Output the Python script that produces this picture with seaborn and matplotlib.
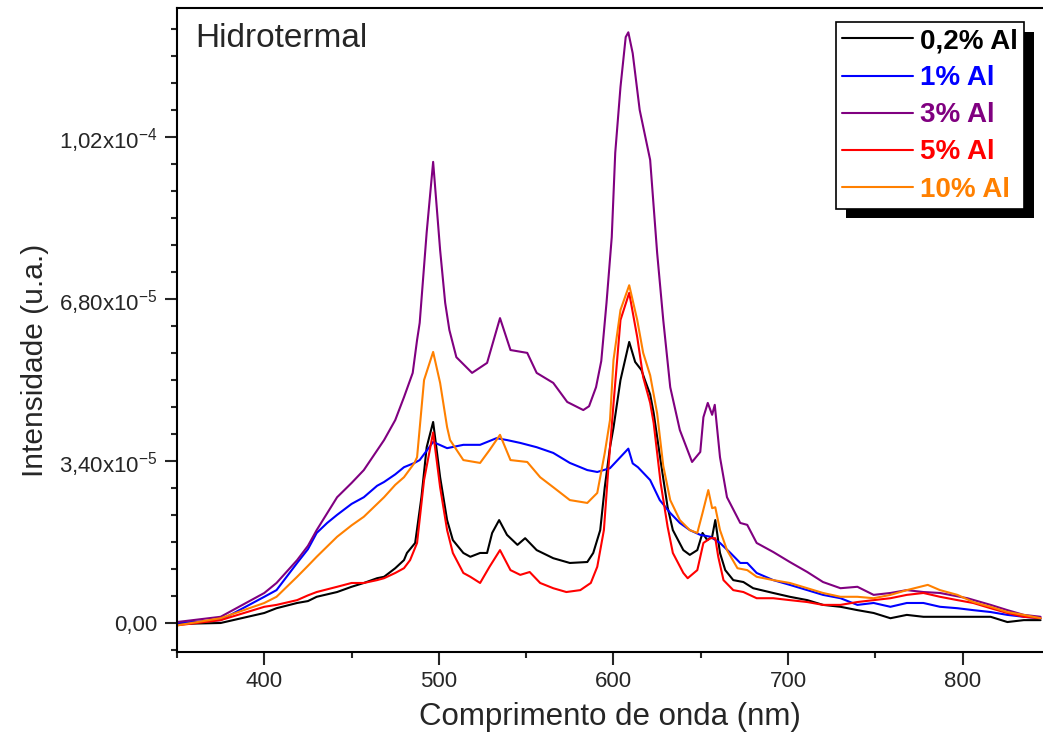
import numpy as np
import pandas as pd
import matplotlib
matplotlib.use("Agg")
import matplotlib.pyplot as plt
import seaborn as sns
from matplotlib.ticker import FixedLocator, FixedFormatter, MultipleLocator
from matplotlib.lines import Line2D
import matplotlib.patheffects as pe

# ---------------- data (intensity in units of 1e-5) ----------------
labels = ["0,2% Al", "1% Al", "3% Al", "5% Al", "10% Al"]
colors = ["#000000", "#0000FF", "#800080", "#FF0000", "#FF8000"]

wl_02 = [350, 375, 400, 407, 418.8, 425, 430, 441.7, 450, 457, 464.6, 468.6, 475, 480, 481.7, 486.4, 490, 493,
         496.7, 500.7, 504.7, 508, 514, 518,
         523.6, 527.6, 530.5, 534.5, 539, 545, 549.4, 556, 565.5, 575, 585, 588.4, 592.4, 595, 598, 600,
         604, 609, 612.4, 616, 618, 621, 623, 627, 631, 634, 640, 643.7, 648, 651, 653.7, 656.5, 658.3,
         661, 664, 668.6, 674.4, 680, 691.5, 701, 711, 720, 730, 739.7, 749, 758.6, 768, 777.5, 787, 797,
         806, 816, 825.6, 835, 844.6]
int_02 = [-0.02, 0.0, 0.21, 0.31, 0.42, 0.46, 0.55, 0.65, 0.76, 0.84, 0.94, 0.97, 1.15, 1.32, 1.47, 1.68, 2.64, 3.69,
          4.22, 3.06, 2.16, 1.74, 1.47, 1.39,
          1.47, 1.47, 1.89, 2.16, 1.85, 1.64, 1.78, 1.53, 1.36, 1.26, 1.28, 1.47, 1.95, 2.85, 3.69, 4.10,
          5.10, 5.90, 5.48, 5.31, 5.10, 4.80, 4.41, 3.40, 2.43, 1.95, 1.53, 1.43, 1.53, 1.89, 1.74, 1.81, 2.16,
          1.47, 1.11, 0.90, 0.86, 0.73, 0.63, 0.55, 0.48, 0.38, 0.34, 0.27, 0.21, 0.10, 0.17, 0.13, 0.13, 0.13,
          0.13, 0.13, 0.02, 0.06, 0.06]

wl_1 = [350, 375, 400, 407, 418.8, 425, 430, 436, 441.7, 450, 457, 464.6, 468.6, 475, 480, 486, 489, 496.7,
        504.7, 514, 523.6, 533, 539, 546.6, 556,
        565.5, 575, 585, 590.7, 598, 608.5, 611, 614, 621, 626.5, 632.5, 638, 643.7, 649.7, 655.5, 661, 667,
        672.6, 676.6, 682, 691.5, 701, 711, 720, 730, 739.7, 749, 758.6, 768, 777.5, 787, 797, 806, 816,
        825.6, 835, 844.6]
int_1 = [0.0, 0.06, 0.55, 0.69, 1.26, 1.55, 1.89, 2.10, 2.27, 2.50, 2.64, 2.88, 2.96, 3.12, 3.27, 3.36, 3.42, 3.80,
         3.67, 3.74, 3.74, 3.88, 3.84, 3.78, 3.69,
         3.57, 3.36, 3.21, 3.17, 3.25, 3.66, 3.35, 3.27, 3.00, 2.58, 2.31, 2.10, 1.95, 1.85, 1.81, 1.68, 1.47,
         1.26, 1.26, 1.05, 0.90, 0.80, 0.69, 0.59, 0.52, 0.38, 0.42, 0.34, 0.42, 0.42, 0.34, 0.31, 0.27, 0.23,
         0.17, 0.13, 0.10]

wl_3 = [350, 375, 400, 407, 418.8, 425, 430, 441.7, 450, 457, 468.6, 475, 480, 485, 487.5, 489, 493, 496.7,
        500.7, 503.6, 506, 510, 519, 527.6, 535, 541,
        550.6, 556, 565.5, 573.5, 582.7, 586, 590, 593, 596, 599, 601, 604, 607, 608.5, 611, 615, 621, 625,
        628.5, 632.5, 638, 645, 649.7, 651.5, 654, 656.5, 658, 661, 665, 672.6, 676.6, 682, 691.5, 701, 711,
        720, 730, 739.7, 749, 758.6, 768, 777.5, 787, 802.7, 816, 825.6, 835, 844.6]
int_3 = [0.02, 0.13, 0.63, 0.84, 1.32, 1.62, 1.95, 2.64, 2.94, 3.21, 3.84, 4.26, 4.74, 5.25, 5.94, 6.30, 8.20, 9.68,
         7.83, 6.72, 6.15, 5.58, 5.25, 5.46, 6.40, 5.73,
         5.67, 5.25, 5.04, 4.64, 4.47, 4.55, 4.95, 5.50, 6.72, 8.10, 9.87, 11.25, 12.30, 12.40, 11.96, 10.77, 9.72, 7.77,
         6.36, 4.95, 4.05, 3.38, 3.59, 4.32, 4.62, 4.37, 4.58, 3.48, 2.64, 2.10, 2.06, 1.68, 1.49, 1.28, 1.07,
         0.86, 0.73, 0.76, 0.59, 0.63, 0.69, 0.65, 0.63, 0.52, 0.38, 0.27, 0.17, 0.13]

wl_5 = [350, 375, 400, 407, 418.8, 425, 430, 441.7, 450, 457, 464.6, 468.6, 475, 480, 483.5, 487.5, 491.5,
        496.7, 500.7, 504.7, 508, 514, 518, 523.6,
        529, 535, 541, 546.6, 552, 558, 565.5, 573, 581, 587, 590.7, 594.5, 597, 600, 604, 609, 613.6, 617,
        621, 623, 627, 631, 634, 640, 642.5, 648, 651.5, 655.5, 658.3, 660, 663, 668.6, 674.4, 682, 691.5,
        701, 711, 720, 730, 739.7, 749, 758.6, 768, 777.5, 787, 797, 806, 816, 825.6, 835, 844.6]
int_5 = [-0.05, 0.06, 0.34, 0.38, 0.48, 0.58, 0.65, 0.76, 0.84, 0.84, 0.90, 0.94, 1.05, 1.15, 1.32, 1.68, 3.00,
         4.00, 2.85, 1.95, 1.47, 1.05, 0.97, 0.84,
         1.18, 1.53, 1.11, 1.01, 1.07, 0.84, 0.73, 0.65, 0.69, 0.84, 1.18, 1.95, 3.21, 4.60, 6.36, 6.93, 6.00, 5.16,
         4.62, 4.20, 2.94, 2.02, 1.47, 1.05, 0.94, 1.11, 1.68, 1.78, 1.78, 1.39, 0.90, 0.69, 0.65, 0.52, 0.52,
         0.48, 0.44, 0.38, 0.38, 0.44, 0.48, 0.52, 0.59, 0.63, 0.55, 0.48, 0.42, 0.31, 0.21, 0.13, 0.10]

wl_10 = [350, 375, 400, 407, 418.8, 425, 430, 441.7, 450, 457, 468.6, 475, 480, 486, 487.5, 491.5, 496.7,
         500.7, 504.7, 506.4, 514, 523.6, 529, 535,
         541, 550.6, 558, 565.5, 575, 585, 590.7, 595, 598, 600, 604, 609, 613.6, 617, 621, 625, 628.5, 632.5,
         638, 643.7, 648, 651, 654.3, 656.5, 658.3, 661, 665, 671, 676.6, 682, 691.5, 701, 711, 720, 730,
         739.7, 749, 758.6, 768, 780, 787, 797, 806, 816, 825.6, 835, 844.6]
int_10 = [-0.05, 0.10, 0.42, 0.55, 0.97, 1.20, 1.39, 1.81, 2.05, 2.23, 2.64, 2.90, 3.06, 3.36, 3.48, 5.10, 5.69,
          5.04, 4.11, 3.84, 3.42, 3.36, 3.63, 3.95,
          3.42, 3.38, 3.06, 2.85, 2.58, 2.52, 2.73, 3.57, 4.26, 5.52, 6.57, 7.09, 6.36, 5.67, 5.20, 4.40, 3.30, 2.58,
          2.16, 1.95, 1.89, 2.31, 2.79, 2.41, 2.43, 1.95, 1.53, 1.15, 1.11, 0.97, 0.90, 0.84, 0.73, 0.63, 0.55,
          0.55, 0.52, 0.59, 0.69, 0.80, 0.69, 0.59, 0.44, 0.34, 0.23, 0.17, 0.10]

ytick_vals = [0.0, 3.40e-5, 6.80e-5, 1.02e-4]
ytick_labels = ["0,00", "3,40x10$^{-5}$", "6,80x10$^{-5}$", "1,02x10$^{-4}$"]
xtick_vals = [400, 500, 600, 700, 800]

series = [(wl_02, int_02), (wl_1, int_1), (wl_3, int_3), (wl_5, int_5), (wl_10, int_10)]
frames = []
for lab, (w, v) in zip(labels, series):
    frames.append(pd.DataFrame({"wl": w, "I": np.array(v) * 1e-5, "amostra": lab}))
df = pd.concat(frames, ignore_index=True)

# ---------------- style ----------------
sns.set_style("ticks")
plt.rcParams["font.family"] = ["Liberation Sans", "DejaVu Sans"]
plt.rcParams["mathtext.fontset"] = "custom"
plt.rcParams["mathtext.rm"] = "Liberation Sans"
plt.rcParams["mathtext.it"] = "Liberation Sans:italic"
plt.rcParams["mathtext.bf"] = "Liberation Sans:bold"

W, H = 1043, 746
fig = plt.figure(figsize=(W / 100, H / 100), dpi=100)
ax = fig.add_axes([177 / W, 1 - 652 / H, (W - 177) / W, (652 - 8) / H])

sns.lineplot(data=df, x="wl", y="I", hue="amostra", hue_order=labels,
             palette=dict(zip(labels, colors)), estimator=None, linewidth=1.5,
             legend=False, ax=ax)

ax.set_xlim(350, 846)
ax.set_ylim(-0.609e-5, 12.91e-5)

ax.xaxis.set_major_locator(FixedLocator(xtick_vals))
ax.xaxis.set_minor_locator(MultipleLocator(50))
ax.yaxis.set_major_locator(FixedLocator(ytick_vals))
ax.yaxis.set_major_formatter(FixedFormatter(ytick_labels))
ax.yaxis.set_minor_locator(MultipleLocator(3.4e-5 / 6))

for s in ["left", "bottom", "top"]:
    ax.spines[s].set_linewidth(1.5)
    ax.spines[s].set_color("black")
ax.spines["right"].set_visible(False)

ax.tick_params(which="major", direction="out", length=9, width=1.5, labelsize=16, pad=5,
               top=False, right=False)
ax.tick_params(which="minor", direction="out", length=4.5, width=1.5, top=False, right=False)

ax.set_xlabel("Comprimento de onda (nm)", fontsize=22.5, labelpad=7)
ax.set_ylabel("Intensidade (u.a.)", fontsize=21.5)
ax.yaxis.set_label_coords(-0.148, 0.453)

fig.text(195 / W, 1 - 47 / H, "Hidrotermal", fontsize=24, va="baseline", ha="left")

handles = [Line2D([0], [0], color=c, lw=1.5) for c in colors]
leg = ax.legend(handles, labels, loc="upper left", bbox_to_anchor=(836 / W, 1 - 22 / H),
                bbox_transform=fig.transFigure, frameon=True, fancybox=False,
                edgecolor="black", framealpha=1, prop={"weight": "bold", "size": 20},
                labelcolor=colors, handlelength=2.55, handletextpad=0.25, borderpad=0.22,
                labelspacing=0.4, borderaxespad=0)
leg.get_frame().set_linewidth(1.2)
leg.get_frame().set_path_effects([pe.SimplePatchShadow(offset=(7, -7), shadow_rgbFace="black", alpha=1),
                                  pe.Normal()])

fig.savefig("out.png", dpi=100)
